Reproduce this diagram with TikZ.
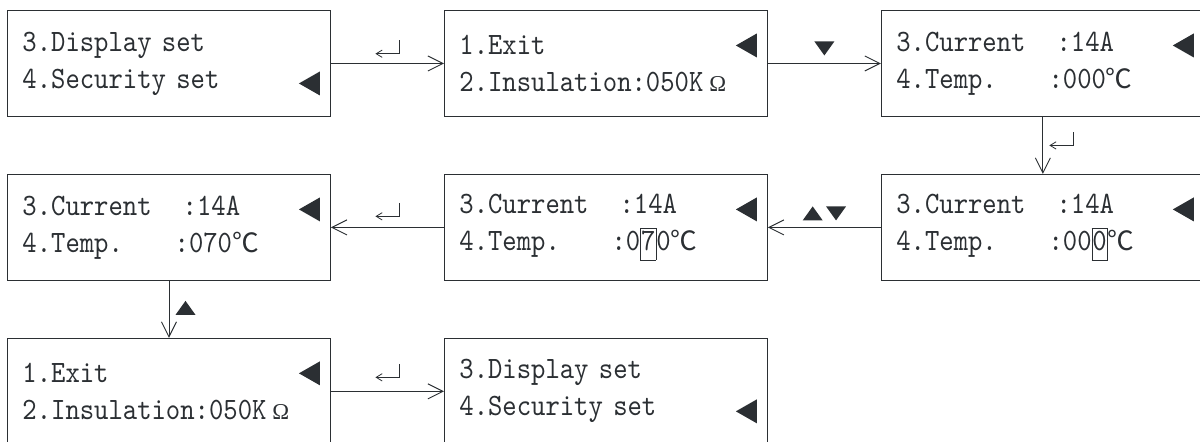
\documentclass[tikz,border=0pt]{standalone}
\usepackage{fontspec}
\newfontfamily\lcd{lmmono10-regular.otf}[FakeStretch=0.88]
\newfontfamily\cjk{Noto Sans CJK SC}
\newfontfamily\greek{Liberation Serif}
\usetikzlibrary{arrows.meta, positioning, calc}
\definecolor{ink}{HTML}{2B2F33}
\newcommand{\sel}[1]{{\setlength{\fboxsep}{0pt}\setlength{\fboxrule}{0.6pt}\fbox{\rule[-0.28em]{0pt}{1.0em}#1}}}
\newcommand{\ohm}{\hspace{4.5pt}{\greek\fontsize{17}{17}\selectfont Ω}}
\newcommand{\degc}{{\cjk\fontsize{20}{20}\selectfont ℃}}
\newcommand{\curs}[2]{\fill[ink] ([shift={(-8.25pt,#2+9pt)}]#1.east) -- ++(0,-18pt) -- ++(-15.75pt,9pt) -- cycle;}

\begin{document}
\begin{tikzpicture}[
  node distance = 42.75pt and 84.75pt,
  line width=0.7pt, ink,
  box/.style   = {draw=ink, minimum width=242.25pt, minimum height=79.5pt,
                  text width=219.75pt, inner xsep=11.25pt, inner ysep=0pt,
                  align=left, text=ink,
                  font=\lcd\fontsize{23.3}{27.75}\selectfont},
  arrow/.style = {-{Straight Barb[length=11.25pt, width=11.25pt]}},
  enter/.pic   = {\draw[line width=0.6pt, -{Straight Barb[length=4.5pt, width=5.5pt]}]
                    (9pt,10pt) -- (9pt,0) -- (-9pt,0);},
  upkey/.pic   = {\fill (-7.5pt,-5.25pt) -- (7.5pt,-5.25pt) -- (0,5.25pt) -- cycle;},
  downkey/.pic = {\fill (-7.5pt,5.25pt) -- (7.5pt,5.25pt) -- (0,-5.25pt) -- cycle;}
]
  \node[box] (menuA) {3.Display set\\4.Security set};
  \node[box, right=of menuA] (exitA) {1.Exit\\2.Insulation:050K\ohm};
  \node[box, right=of exitA] (curA)  {3.Current~~~:14A\\4.Temp.~~~~~:000\degc};
  \node[box, below=of curA]  (curB)  {3.Current~~~:14A\\4.Temp.~~~~~:00\sel{0}\degc};
  \node[box, left=of curB]   (curC)  {3.Current~~~:14A\\4.Temp.~~~~~:0\sel{7}0\degc};
  \node[box, left=of curC]   (curD)  {3.Current~~~:14A\\4.Temp.~~~~~:070\degc};
  \node[box, below=of curD]  (exitB) {1.Exit\\2.Insulation:050K\ohm};
  \node[box, right=of exitB] (menuB) {3.Display set\\4.Security set};

  % cursors
  \curs{menuA}{-15pt}
  \curs{exitA}{13.5pt}
  \curs{curA}{13.5pt}
  \curs{curB}{13.5pt}
  \curs{curC}{13.5pt}
  \curs{curD}{13.5pt}
  \curs{exitB}{13.5pt}
  \curs{menuB}{-15pt}

  \draw[arrow] (menuA) -- pic[yshift=7.3pt]{enter} (exitA);
  \draw[arrow] (exitA) -- pic[yshift=11.25pt]{downkey} (curA);
  \draw[arrow] (curA)  -- pic[xshift=13.9pt]{enter} (curB);
  \draw[arrow] (curB)  -- pic[yshift=10.5pt, xshift=-8.75pt]{upkey}
                          pic[yshift=10.5pt, xshift=8.75pt]{downkey} (curC);
  \draw[arrow] (curC)  -- pic[yshift=8.3pt]{enter} (curD);
  \draw[arrow] (curD)  -- pic[xshift=12.4pt, yshift=1.1pt]{upkey} (exitB);
  \draw[arrow] (exitB) -- pic[yshift=10.5pt]{enter} (menuB);

  \pgfresetboundingbox
  \useasboundingbox ([shift={(-5.25pt,7.5pt)}]menuA.north west) rectangle ++(900pt,-331.5pt);
\end{tikzpicture}
\end{document}
